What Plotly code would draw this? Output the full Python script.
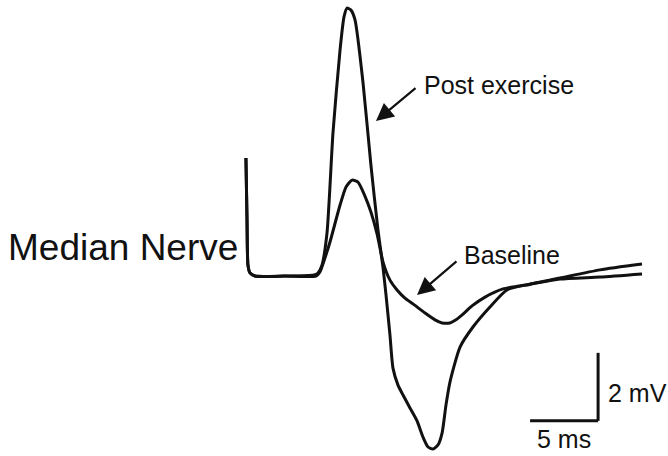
import plotly.graph_objects as go

# Compound muscle action potential, median nerve (time in ms, amplitude in mV)
post_t = [0.07, 0.15, 0.22, 0.37, 0.74, 2.94, 5.07, 5.37, 5.66, 6.03, 6.47, 6.99, 7.28, 7.50,
          7.79, 8.09, 8.68, 9.26, 9.78, 10.15, 10.37, 10.66, 10.88, 11.25, 11.62, 12.13,
          12.65, 13.09, 13.46, 13.82, 14.19, 14.49, 14.78, 15.07, 15.81, 16.76, 18.01,
          19.26, 20.96, 23.16, 26.10, 29.19]
post_mv = [3.47, 1.65, 0.32, 0.09, 0.0, 0.0, 0.03, 0.09, 0.32, 1.26, 4.21, 6.65, 7.62, 7.88,
           7.82, 7.53, 5.68, 3.26, 1.35, 0.24, -0.56, -1.74, -2.71, -3.21, -3.50, -3.88,
           -4.26, -4.74, -5.03, -5.09, -4.97, -4.62, -3.79, -3.12, -2.09, -1.50, -0.91,
           -0.41, -0.24, -0.06, 0.18, 0.35]

base_t = [0.07, 0.15, 0.22, 0.37, 0.74, 2.94, 5.22, 5.51, 5.88, 6.25, 6.99, 7.43, 7.87,
          8.31, 8.82, 9.26, 9.71, 10.15, 10.66, 11.18, 11.76, 12.35, 13.24, 13.97, 14.49,
          15.07, 15.51, 16.03, 16.69, 17.65, 18.97, 20.96, 23.16, 26.10, 29.19]
base_mv = [3.47, 1.65, 0.32, 0.09, 0.0, 0.0, 0.0, 0.12, 0.53, 1.0, 2.09, 2.62, 2.82,
           2.76, 2.35, 1.88, 1.24, 0.41, -0.12, -0.41, -0.65, -0.82, -1.09, -1.29, -1.38,
           -1.38, -1.29, -1.12, -0.88, -0.62, -0.38, -0.24, -0.09, -0.03, 0.06]

# Calibration bar
SCALE_MS = 5
SCALE_MV = 2
BAR_T0 = 20.96
BAR_V0 = -4.26

INK = "#111111"
FONT = "Liberation Sans, Arial, Helvetica, sans-serif"

fig = go.Figure()
for t, v, name in [(base_t, base_mv, "Baseline"), (post_t, post_mv, "Post exercise")]:
    fig.add_trace(go.Scatter(
        x=t, y=v, name=name, mode="lines",
        line=dict(color=INK, width=3, shape="spline", smoothing=0.6),
        hoverinfo="skip", showlegend=False,
    ))

bar_t1 = BAR_T0 + SCALE_MS
fig.add_shape(type="line", x0=BAR_T0, x1=bar_t1, y0=BAR_V0, y1=BAR_V0,
              line=dict(color=INK, width=3))
fig.add_shape(type="line", x0=bar_t1, x1=bar_t1, y0=BAR_V0, y1=BAR_V0 + SCALE_MV,
              line=dict(color=INK, width=3))

def label(text, x, y, size, xanchor="left"):
    fig.add_annotation(x=x, y=y, text=text, showarrow=False, xanchor=xanchor,
                       yanchor="middle", font=dict(family=FONT, size=size, color=INK))

def arrow(x_head, y_head, x_tail, y_tail):
    fig.add_annotation(x=x_head, y=y_head, ax=x_tail, ay=y_tail, axref="x", ayref="y",
                       text="", showarrow=True, arrowhead=2, arrowsize=1.6,
                       arrowwidth=2.2, arrowcolor=INK)

label("Median Nerve", -8.97, 0.85, 37, xanchor="center")
label("Post exercise", 13.01, 5.62, 25)
label("Baseline", 15.96, 0.62, 25)
label(f"{SCALE_MV} mV", 26.54, -3.44, 25)
label(f"{SCALE_MS} ms", 23.46, -4.79, 25, xanchor="center")
arrow(9.63, 4.56, 12.65, 5.56)
arrow(12.65, -0.56, 15.66, 0.47)

fig.update_layout(
    width=668, height=456,
    margin=dict(l=0, r=0, t=0, b=0),
    paper_bgcolor="white", plot_bgcolor="white",
    xaxis=dict(range=[-18.01, 31.10], visible=False, fixedrange=True),
    yaxis=dict(range=[-5.294, 8.118], visible=False, fixedrange=True),
)

fig.write_html("out.html")
